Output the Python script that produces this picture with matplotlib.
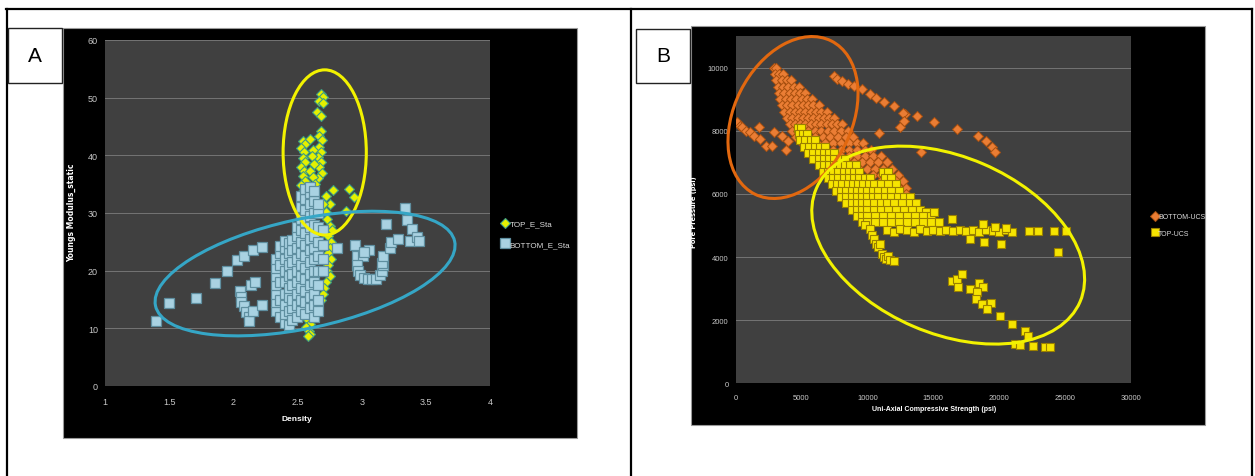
import matplotlib.pyplot as plt
from matplotlib.patches import Rectangle, Ellipse
from matplotlib.lines import Line2D
from matplotlib.transforms import ScaledTranslation

W, H = 1255, 477

# ---- panel A data: density vs static Young's modulus ----
top_e_sta = [
    (2.68, 50.6), (2.70, 50.2), (2.67, 49.4), (2.70, 49.0), (2.65, 47.6), (2.68, 46.8),
    (2.68, 44.3), (2.67, 43.4), (2.69, 42.6), (2.67, 41.5), (2.68, 40.6), (2.66, 39.7),
    (2.68, 38.8), (2.67, 37.9), (2.69, 37.0), (2.66, 36.0),
    (2.54, 42.5), (2.56, 42.0), (2.53, 41.2), (2.55, 40.5), (2.54, 39.6), (2.56, 38.8),
    (2.53, 38.0), (2.55, 37.2), (2.54, 36.5), (2.56, 35.6), (2.53, 34.8), (2.53, 33.5),
    (2.60, 42.8), (2.62, 41.0), (2.61, 39.8), (2.63, 38.5), (2.60, 37.3), (2.62, 36.2),
    (2.64, 35.0), (2.61, 34.0),
    (2.78, 34.0), (2.90, 34.2), (2.94, 32.7), (2.88, 30.4), (2.72, 33.0), (2.75, 31.5),
    (2.70, 31.5), (2.72, 30.2), (2.73, 29.0), (2.75, 27.8), (2.77, 27.0), (2.74, 26.0),
    (2.76, 25.0), (2.75, 24.0), (2.74, 23.0), (2.76, 22.0), (2.74, 21.0), (2.73, 20.0),
    (2.75, 19.0), (2.72, 18.0), (2.71, 17.0), (2.70, 16.0), (2.68, 15.0), (2.66, 14.0),
    (2.64, 13.0), (2.62, 12.2),
    (2.58, 11.5), (2.60, 10.8), (2.57, 10.2), (2.59, 9.6), (2.60, 9.0), (2.58, 8.6),
]

bottom_e_sta = [
    # sparse low-density points
    (1.40, 11.2), (1.50, 14.4), (1.71, 15.2), (1.86, 17.9), (1.95, 20.0), (2.03, 21.8),
    (2.08, 22.6), (2.15, 23.6), (2.22, 24.1),
    (2.05, 16.5), (2.06, 15.5), (2.06, 14.5), (2.08, 13.8), (2.10, 12.8), (2.12, 12.0),
    (2.12, 11.3), (2.15, 13.0), (2.14, 17.6), (2.17, 18.0), (2.22, 14.0),
    # main column
    (2.33, 13.0), (2.33, 14.5), (2.33, 16.0), (2.33, 17.5), (2.33, 19.0), (2.33, 20.5), (2.33, 22.0),
    (2.36, 12.0), (2.36, 15.0), (2.36, 18.0), (2.36, 21.0), (2.36, 23.0), (2.36, 24.3),
    (2.40, 11.0), (2.40, 12.5), (2.40, 14.0), (2.40, 16.0), (2.40, 18.0), (2.40, 20.0),
    (2.40, 22.0), (2.40, 24.0), (2.40, 25.2),
    (2.43, 10.6), (2.43, 13.0), (2.43, 15.5), (2.43, 17.0), (2.43, 19.0), (2.43, 21.0),
    (2.43, 23.0), (2.43, 24.8),
    (2.46, 11.5), (2.46, 13.5), (2.46, 15.0), (2.46, 17.5), (2.46, 19.5), (2.46, 21.5),
    (2.46, 23.5), (2.46, 25.3),
    (2.50, 12.0), (2.50, 14.0), (2.50, 16.0), (2.50, 18.0), (2.50, 20.0), (2.50, 22.0),
    (2.50, 24.0), (2.50, 26.0), (2.50, 27.5),
    (2.53, 13.0), (2.53, 15.0), (2.53, 17.0), (2.53, 19.0), (2.53, 21.0), (2.53, 23.0),
    (2.53, 25.0), (2.53, 27.0), (2.53, 29.0), (2.53, 31.0), (2.53, 33.0),
    (2.56, 12.5), (2.56, 14.5), (2.56, 16.5), (2.56, 18.5), (2.56, 20.5), (2.56, 22.5),
    (2.56, 24.5), (2.56, 26.5), (2.56, 28.5), (2.56, 30.5), (2.56, 32.5), (2.56, 34.2),
    (2.60, 13.5), (2.60, 15.5), (2.60, 17.5), (2.60, 19.5), (2.60, 21.5), (2.60, 23.5),
    (2.60, 25.5), (2.60, 27.5), (2.60, 29.5), (2.60, 31.5), (2.60, 33.5), (2.60, 34.5),
    (2.63, 12.0), (2.63, 14.0), (2.63, 16.0), (2.63, 18.0), (2.63, 20.0), (2.63, 22.0),
    (2.63, 24.0), (2.63, 26.0), (2.63, 28.0), (2.63, 30.0), (2.63, 32.0), (2.63, 33.8),
    (2.66, 13.0), (2.66, 15.0), (2.66, 17.5), (2.66, 20.0), (2.66, 22.5), (2.66, 25.0),
    (2.66, 27.5), (2.66, 30.0), (2.66, 31.5),
    (2.70, 20.0), (2.70, 22.0), (2.70, 24.5), (2.70, 27.0), (2.81, 23.9),
    # high-density group
    (2.95, 24.5), (3.06, 23.6), (2.96, 22.6), (3.01, 22.6), (3.02, 23.2),
    (2.96, 21.0), (2.97, 20.0), (2.99, 19.3), (3.02, 18.8), (3.05, 18.5), (3.08, 18.5),
    (3.11, 18.6), (3.14, 19.2), (3.16, 20.0), (3.17, 21.0), (3.16, 21.4), (3.17, 22.6),
    (3.19, 28.1), (3.22, 23.9), (3.23, 25.0), (3.28, 25.5), (3.34, 30.8), (3.35, 28.7),
    (3.39, 27.2), (3.38, 25.2), (3.43, 25.9), (3.45, 25.2),
]

# ---- panel B data: UCS vs pore pressure ----
bottom_ucs = [
    (2900, 10000), (3100, 10000),
    (3000, 9800), (3300, 9800), (3600, 9800),
    (3100, 9600), (3500, 9600), (3900, 9600), (4200, 9600),
    (3200, 9400), (3600, 9400), (4000, 9400), (4400, 9400), (4800, 9400),
    (3300, 9200), (3700, 9200), (4100, 9200), (4500, 9200), (4900, 9200), (5300, 9200),
    (3400, 9000), (3800, 9000), (4200, 9000), (4600, 9000), (5000, 9000), (5400, 9000), (5800, 9000),
    (3500, 8800), (3900, 8800), (4300, 8800), (4700, 8800), (5100, 8800), (5500, 8800),
    (5900, 8800), (6300, 8800),
    (3700, 8600), (4100, 8600), (4500, 8600), (4900, 8600), (5300, 8600), (5700, 8600),
    (6100, 8600), (6500, 8600), (6900, 8600),
    (3900, 8400), (4300, 8400), (4700, 8400), (5100, 8400), (5500, 8400), (5900, 8400),
    (6300, 8400), (6700, 8400), (7100, 8400), (7500, 8400),
    (4100, 8200), (4500, 8200), (4900, 8200), (5300, 8200), (5700, 8200), (6100, 8200),
    (6500, 8200), (6900, 8200), (7300, 8200), (7700, 8200), (8100, 8200),
    (4300, 8000), (4700, 8000), (5500, 8000), (6000, 8000), (6500, 8000), (7000, 8000),
    (7500, 8000), (8000, 8000), (8500, 8000),
    (4600, 7800), (5300, 7800), (6000, 7800), (6600, 7800), (7200, 7800), (7800, 7800),
    (8400, 7800), (8900, 7800),
    (5000, 7600), (6200, 7600), (6800, 7600), (7400, 7600), (8000, 7600), (8600, 7600),
    (9200, 7600), (9700, 7600),
    (6800, 7400), (7400, 7400), (8000, 7400), (8600, 7400), (9200, 7400), (9800, 7400), (10300, 7400),
    (7400, 7200), (8000, 7200), (8600, 7200), (9200, 7200), (9800, 7200), (10400, 7200), (11000, 7200),
    (8400, 7000), (9000, 7000), (9600, 7000), (10200, 7000), (10800, 7000), (11500, 7000),
    (9400, 6800), (10000, 6800), (10600, 6800), (11200, 6800), (11900, 6800),
    (10400, 6600), (11000, 6600), (11600, 6600), (12300, 6600),
    (11000, 6400), (11600, 6400), (12200, 6400), (12700, 6400),
    (11800, 6200), (12400, 6200), (12900, 6200), (12400, 6000), (12900, 6000),
    # upper trend line
    (7461, 9738), (7700, 9650), (8068, 9579), (8523, 9474), (8977, 9421), (9584, 9316),
    (10190, 9157), (10645, 9052), (11252, 8894), (12010, 8788), (12860, 8524), (13740, 8451),
    (15044, 8261), (16803, 8050), (18380, 7839), (18987, 7680), (19441, 7470), (19653, 7311),
    (12709, 8577), (12466, 8124), (10858, 7912), (14073, 7311), (12800, 8300),
    # low-UCS trail
    (121, 8261), (300, 8150), (485, 8103), (800, 8000), (1092, 7944), (1400, 7830),
    (1850, 7733), (2305, 7522), (2760, 7522), (1760, 8103), (2912, 7944), (3518, 7839),
    (3973, 7680), (3800, 7400),
]

top_ucs = [
    (4700, 8100), (4950, 8100),
    (4800, 7900), (5100, 7900), (5400, 7900),
    (4900, 7700), (5300, 7700), (5700, 7700), (6000, 7700),
    (5200, 7500), (5600, 7500), (6000, 7500), (6400, 7500), (6800, 7500),
    (5500, 7300), (5900, 7300), (6300, 7300), (6700, 7300), (7100, 7300), (7500, 7300),
    (5900, 7100), (6300, 7100), (6700, 7100), (7100, 7100), (7500, 7100), (7900, 7100), (8300, 7100),
    (6300, 6900), (6700, 6900), (7100, 6900), (7500, 6900), (7900, 6900), (8300, 6900),
    (8700, 6900), (9100, 6900),
    (6600, 6700), (7000, 6700), (7400, 6700), (7800, 6700), (8200, 6700), (8600, 6700),
    (9000, 6700), (9400, 6700), (11200, 6700), (11600, 6700),
    (7000, 6500), (7400, 6500), (7800, 6500), (8200, 6500), (8600, 6500), (9000, 6500),
    (9400, 6500), (9800, 6500), (10200, 6500), (11300, 6500), (11800, 6500),
    (7300, 6300), (7700, 6300), (8100, 6300), (8500, 6300), (8900, 6300), (9300, 6300),
    (9700, 6300), (10100, 6300), (10500, 6300), (11000, 6300), (11600, 6300), (12200, 6300),
    (7600, 6100), (8000, 6100), (8400, 6100), (8800, 6100), (9200, 6100), (9600, 6100),
    (10000, 6100), (10400, 6100), (10800, 6100), (11300, 6100), (11800, 6100), (12400, 6100),
    (8000, 5900), (8400, 5900), (8800, 5900), (9200, 5900), (9600, 5900), (10000, 5900),
    (10400, 5900), (10800, 5900), (11300, 5900), (11800, 5900), (12300, 5900), (12800, 5900),
    (13200, 5900),
    (8400, 5700), (8800, 5700), (9200, 5700), (9600, 5700), (10000, 5700), (10500, 5700),
    (11000, 5700), (11500, 5700), (12000, 5700), (12600, 5700), (13200, 5700), (13700, 5700),
    (8800, 5500), (9200, 5500), (9600, 5500), (10000, 5500), (10500, 5500), (11000, 5500),
    (11600, 5500), (12200, 5500), (12800, 5500), (13400, 5500), (14000, 5500), (14437, 5412),
    (9200, 5300), (9600, 5300), (10000, 5300), (10600, 5300), (11200, 5300), (11800, 5300),
    (12400, 5300), (13000, 5300), (13600, 5300), (14200, 5300), (14800, 5300), (15044, 5412),
    (9600, 5100), (10000, 5100), (10600, 5100), (11200, 5100), (11800, 5100), (12400, 5100),
    (13000, 5100), (13600, 5100), (14200, 5100), (14800, 5100), (15400, 5100),
    # flat line near 4800-4900 psi
    (11500, 4850), (12000, 4800), (12500, 4880), (13000, 4850), (13500, 4800), (14000, 4880),
    (14500, 4830), (15000, 4870), (15500, 4820), (16000, 4860), (16500, 4830), (17000, 4870),
    (17500, 4820), (18000, 4850), (18500, 4800), (19000, 4870), (19500, 4830), (20000, 4780),
    (20500, 4850), (21000, 4780), (22262, 4811), (22929, 4811), (24143, 4832), (25053, 4832),
    (16410, 5201), (18775, 5043), (19653, 4938), (20506, 4927),
    (17774, 4568), (18835, 4463), (20142, 4410), (24446, 4146),
    # branch going down
    (9800, 5000), (10190, 4885), (10350, 4700), (10494, 4568), (10650, 4420), (10797, 4304),
    (10949, 4410), (11100, 4093), (11250, 3990), (11404, 3935), (11556, 4040), (11700, 3900),
    (12010, 3882),
    # lower group
    (16400, 3247), (16780, 3300), (17150, 3460), (16900, 3038), (17780, 2984), (18490, 3174),
    (18790, 3038), (18290, 2880), (18240, 2668), (18670, 2510), (19350, 2541), (19050, 2351),
    (20060, 2120), (20950, 1877), (21960, 1665), (22210, 1507), (21200, 1244), (21580, 1212),
    (22540, 1170), (23470, 1139), (23850, 1139),
]

a_xticks = [1, 1.5, 2, 2.5, 3, 3.5, 4]
a_yticks = [0, 10, 20, 30, 40, 50, 60]
b_xticks = [0, 5000, 10000, 15000, 20000, 25000, 30000]
b_yticks = [0, 2000, 4000, 6000, 8000, 10000]

NARROW = ['Liberation Sans', 'DejaVu Sans']


def fig_rect(x0, y0, x1, y1):
    # image pixel box -> figure fraction [left, bottom, width, height]
    return [x0 / W, 1 - y1 / H, (x1 - x0) / W, (y1 - y0) / H]


def px(x, y):
    return x / W, 1 - y / H


fig = plt.figure(figsize=(W / 100, H / 100), dpi=100)
fig.patch.set_facecolor('white')

# table frame
for (x0, y0, x1, y1) in [(6, 10, 1252, 10), (7, 10, 7, 477), (631, 10, 631, 477), (1252, 10, 1252, 477)]:
    fig.add_artist(Line2D([x0 / W, x1 / W], [1 - y0 / H, 1 - y1 / H], color='black', lw=1.6,
                          transform=fig.transFigure))

# black chart backgrounds
for box in [(63, 29, 577, 439), (691, 27, 1205, 426)]:
    l, b, w, h = fig_rect(*box)
    fig.add_artist(Rectangle((l, b), w, h, transform=fig.transFigure, facecolor='black',
                             edgecolor='#9a9a9a', lw=0.8, zorder=0))

# panel label boxes
for box, lab in [((8, 29, 62, 84), 'A'), ((636, 30, 690, 84), 'B')]:
    l, b, w, h = fig_rect(*box)
    fig.add_artist(Rectangle((l, b), w, h, transform=fig.transFigure, facecolor='white',
                             edgecolor='#222222', lw=1.0, zorder=3))
    fig.text(l + w / 2, b + h / 2, lab, ha='center', va='center', fontsize=15,
             family=NARROW, color='black', zorder=4)


def style_axes(ax, size):
    ax.set_facecolor('#404040')
    for s in ax.spines.values():
        s.set_visible(False)
    ax.grid(axis='y', color='#747474', lw=0.7)
    ax.set_axisbelow(True)
    ax.tick_params(length=0, colors='#c8c8c8', labelsize=size, pad=5)
    for lab in ax.get_xticklabels() + ax.get_yticklabels():
        lab.set_family(NARROW)


def pixel_ellipse(ax, cx, cy, a, b, angle, color):
    # ellipse sized in pixels, centred on a data point
    e = Ellipse((0, 0), 2 * a, 2 * b, angle=angle, fill=False, edgecolor=color, lw=2.2,
                transform=ScaledTranslation(cx, cy, ax.transData), clip_on=False, zorder=10)
    ax.add_patch(e)


# ---------------- panel A ----------------
axA = fig.add_axes(fig_rect(105, 41, 490, 387))
axA.set_xlim(1, 4)
axA.set_ylim(0, 60)
axA.set_xticks(a_xticks)
axA.set_xticklabels([f'{t:g}' for t in a_xticks])
axA.set_yticks(a_yticks)
style_axes(axA, 6.5)
axA.tick_params(axis='x', pad=8)

tx, ty = zip(*top_e_sta)
bx, by = zip(*bottom_e_sta)
hA1, = axA.plot(tx, ty, 'D', ms=4.6, mfc='#e4f000', mec='#3c9c84', mew=0.8, ls='none',
                label='TOP_E_Sta', zorder=3)
hA2, = axA.plot(bx, by, 's', ms=7.6, mfc='#a9d2e2', mec='#5f8fa0', mew=0.9, ls='none',
                label='BOTTOM_E_Sta', zorder=4)

pixel_ellipse(axA, 2.712, 40.5, 41.6, 82.6, 0, '#f2f200')
pixel_ellipse(axA, 2.559, 19.5, 153, 54.5, 12.2, '#35a6c6')

fig.text(*px(72, 213), 'Youngs Modulus_static', rotation=90, ha='center', va='center',
         color='white', fontsize=5.5, fontweight='bold', family=['DejaVu Sans'])
fig.text(*px(297, 420), 'Density', ha='center', va='center', color='white', fontsize=6,
         fontweight='bold', family=NARROW)
axA.legend(handles=[hA1, hA2], loc='center left', bbox_to_anchor=px(499, 235),
           bbox_transform=fig.transFigure, frameon=False, labelcolor='#dddddd',
           prop={'family': NARROW, 'size': 5.8}, handlelength=0.6, handletextpad=0.2,
           labelspacing=1.6, borderpad=0)

# ---------------- panel B ----------------
axB = fig.add_axes(fig_rect(735.6, 37, 1131, 384.3))
axB.set_xlim(0, 30000)
axB.set_ylim(0, 11000)
axB.set_xticks(b_xticks)
axB.set_yticks(b_yticks)
style_axes(axB, 5.5)
axB.tick_params(axis='x', pad=8)

ox, oy = zip(*bottom_ucs)
yx, yy = zip(*top_ucs)
hB1, = axB.plot(ox, oy, 'D', ms=5.2, mfc='#ea7d34', mec='#a9500f', mew=0.7, ls='none',
                label='BOTTOM-UCS', zorder=3)
hB2, = axB.plot(yx, yy, 's', ms=6.4, mfc='#f6e400', mec='#9a8000', mew=0.8, ls='none',
                label='TOP-UCS', zorder=4)

pixel_ellipse(axB, 4355, 8418, 85.6, 58.8, 63.5, '#e2680f')
pixel_ellipse(axB, 16130, 4377, 143.5, 88.4, -23.2, '#f2f200')

fig.text(*px(694, 212), 'Pore Pressure (psi)', rotation=90, ha='center', va='center',
         color='white', fontsize=4.8, fontweight='bold', family=['DejaVu Sans'])
fig.text(*px(934, 410), 'Uni-Axial Compressive Strength (psi)', ha='center', va='center',
         color='white', fontsize=5, fontweight='bold', family=NARROW)
axB.legend(handles=[hB1, hB2], loc='center left', bbox_to_anchor=px(1149, 226),
           bbox_transform=fig.transFigure, frameon=False, labelcolor='#dddddd',
           prop={'family': NARROW, 'size': 5}, handlelength=0.6, handletextpad=0.2,
           labelspacing=1.3, borderpad=0)

fig.savefig('out.png', dpi=100, facecolor='white')
